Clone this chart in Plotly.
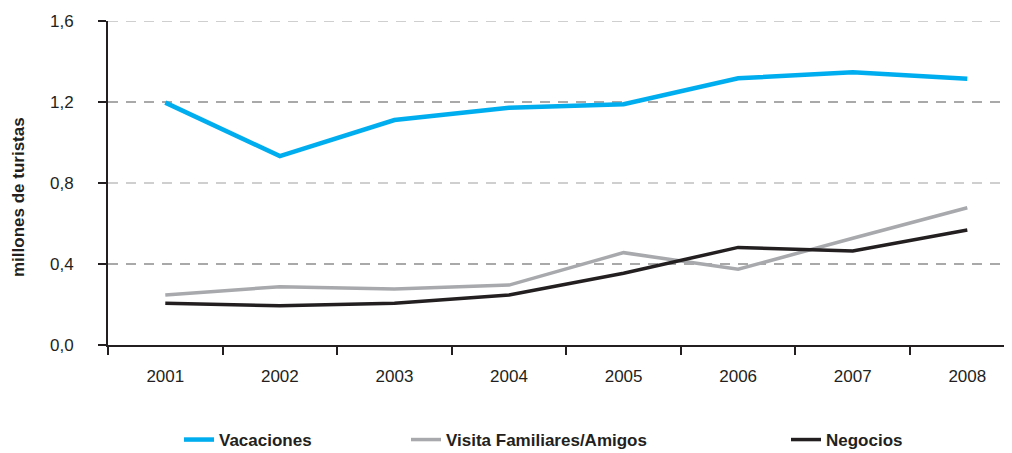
import plotly.graph_objects as go

years = ["2001", "2002", "2003", "2004", "2005", "2006", "2007", "2008"]
vacaciones = [1.197, 0.933, 1.111, 1.172, 1.189, 1.317, 1.347, 1.315]
visita = [0.247, 0.288, 0.277, 0.296, 0.456, 0.374, 0.527, 0.678]
negocios = [0.206, 0.194, 0.206, 0.247, 0.354, 0.482, 0.464, 0.568]
y_ticks = [0.0, 0.4, 0.8, 1.2, 1.6]

FONT = "Liberation Sans, Arial, sans-serif"
INK = "#231f20"

# the page body adds an 8px offset; the figure is sized to fit inside it
W, H = 1004, 445

fig = go.Figure()
fig.add_trace(go.Scatter(x=years, y=vacaciones, mode="lines", name="Vacaciones",
                         line=dict(color="#00aeef", width=4.5), legend="legend"))
fig.add_trace(go.Scatter(x=years, y=visita, mode="lines", name="Visita Familiares/Amigos",
                         line=dict(color="#a7a9ac", width=3.5), legend="legend2"))
fig.add_trace(go.Scatter(x=years, y=negocios, mode="lines", name="Negocios",
                         line=dict(color=INK, width=3.5), legend="legend3"))

# alternating dashed gridlines
for i, v in enumerate(y_ticks[1:]):
    dark = (i % 2 == 0)
    fig.add_shape(type="line", xref="paper", yref="y", x0=0, x1=1, y0=v, y1=v,
                  line=dict(color="#555555" if dark else "#a0a0a0", width=1.2,
                            dash="10px,8px"),
                  layer="below")

leg_common = dict(orientation="h", xref="container", yref="container",
                  yanchor="middle", y=(H - 432) / H, bgcolor="rgba(0,0,0,0)",
                  font=dict(family=FONT, size=17, color=INK, weight="bold"))

fig.update_layout(
    width=W, height=H,
    margin=dict(l=100, r=0, t=13, b=108, autoexpand=False),
    paper_bgcolor="white", plot_bgcolor="white",
    separators=",.",
    font=dict(family=FONT, size=17, color=INK),
    showlegend=True,
    legend=dict(x=171 / W, **leg_common),
    legend2=dict(x=398 / W, **leg_common),
    legend3=dict(x=778 / W, **leg_common),
    xaxis=dict(type="category", range=[-0.5, 7.39], tickson="boundaries",
               ticks="outside", ticklen=8, tickwidth=1.5, tickcolor=INK,
               showline=True, linecolor=INK, linewidth=1.8, showgrid=False,
               ticklabelstandoff=15, tickfont=dict(family=FONT, size=17, color=INK),
               fixedrange=True),
    yaxis=dict(range=[0, 1.6], tickvals=y_ticks, tickformat=".1f",
               ticks="outside", ticklen=8, tickwidth=1.5, tickcolor=INK,
               showline=True, linecolor=INK, linewidth=1.8, showgrid=False,
               zeroline=False, ticklabelstandoff=21,
               tickfont=dict(family=FONT, size=17, color=INK), fixedrange=True),
    annotations=[dict(text="<b>millones de turistas</b>", textangle=-90,
                      xref="paper", yref="paper", x=(10 - 100) / 904,
                      y=(337 - 189) / 324, xanchor="center", yanchor="middle",
                      showarrow=False, font=dict(family=FONT, size=17, color=INK))],
)

fig.write_html("out.html")
